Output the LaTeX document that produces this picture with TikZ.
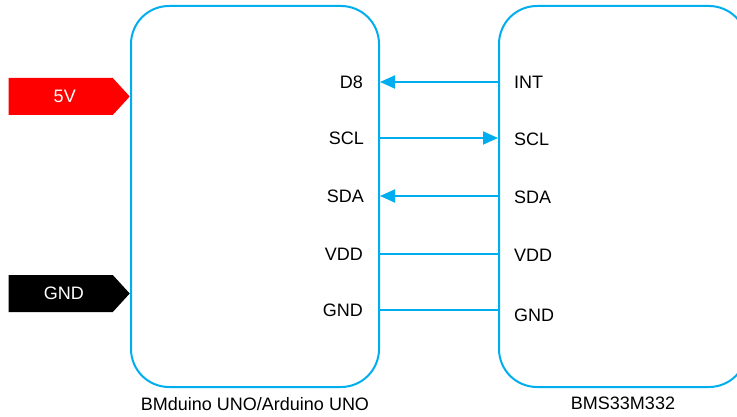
\documentclass[tikz,border=0pt]{standalone}
\usepackage{fontspec}
\setmainfont{Liberation Sans}
\usetikzlibrary{positioning, arrows.meta, shapes.symbols}
\definecolor{wireblue}{RGB}{0,174,239}
\tikzset{
  wiring/.style={
	x=1pt, y=-1pt, % one unit is one pixel, y runs downwards
	font=\fontsize{18}{20}\selectfont, % same size for every text
	board/.style={draw=wireblue, line width=2pt, rounded corners=38pt, minimum width=248pt, minimum height=381pt, inner sep=0pt}, % the two boards
	pin/.style={inner sep=0pt}, % pin names and board names
	wire/.style={draw=wireblue, line width=1.9pt}, % the connections
	tip/.style={-{Triangle[length=15pt, width=13pt]}}, % the direction of a signal
	tag/.style={signal, signal to=east, signal pointer angle=95, minimum width=121pt, minimum height=37pt, inner sep=0pt, text=white, anchor=east}, % supply tags
  }
}

\begin{document}
\begin{tikzpicture}[wiring]
\useasboundingbox (0,0) rectangle (737,417);
\node[board] (uno) at (255,196.5) {};
\node[board] (bms) at (623,196.5) {};
% pins of the BMduino
\node[pin, anchor=east] (d8) at (363,82) {D8};
\node[pin, anchor=east] (scl) at (364,138) {SCL};
\node[pin, anchor=east] (sda) at (364,196) {SDA};
\node[pin, anchor=east] (vdd) at (363,254) {VDD};
\node[pin, anchor=east] (gnd) at (363,310) {GND};
% pins of the BMS33M332
\node[pin, anchor=west] (int) at (514,82) {INT};
\node[pin, anchor=west] (sclb) at (514,139) {SCL};
\node[pin, anchor=west] (sdab) at (514,197) {SDA};
\node[pin, anchor=west] (vddb) at (514,255) {VDD};
\node[pin, anchor=west] (gndb) at (514,315) {GND};
% supply tags
\node[tag, fill=red] (vin) at (130,96.5) {\hspace{8pt}5V};
\node[tag, fill=black] (ground) at (130,293.5) {\hspace{6pt}GND};
% board names
\node[pin, below=9pt of uno] (unoname) {BMduino UNO/Arduino UNO};
\node[pin, below=9pt of bms] (bmsname) {BMS33M332};
\draw[wire, tip] (bms.west |- d8) -- (uno.east |- d8);
\draw[wire, tip] (uno.east |- scl) -- (bms.west |- scl);
\draw[wire, tip] (bms.west |- sda) -- (uno.east |- sda);
\draw[wire] (uno.east |- vdd) -- (bms.west |- vdd);
\draw[wire] (uno.east |- gnd) -- (bms.west |- gnd);
\end{tikzpicture}
\end{document}
